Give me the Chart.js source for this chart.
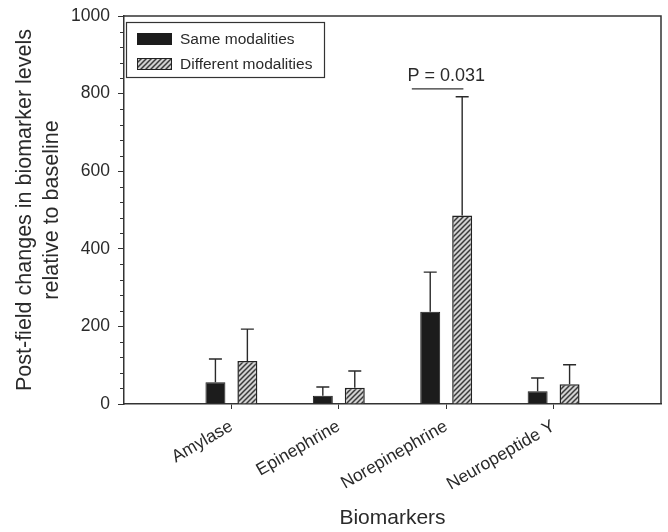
<!DOCTYPE html>
<html>
<head>
<meta charset="utf-8">
<script src="https://cdn.jsdelivr.net/npm/chart.js@4"></script>
<style>
  html, body { margin: 0; padding: 0; background: #fff; }
  #wrap { width: 668px; height: 532px; }
</style>
</head>
<body>
<div id="wrap"><canvas id="chart"></canvas></div>
<script>
// data
const categories = ['Amylase', 'Epinephrine', 'Norepinephrine', 'Neuropeptide Y'];
const sameMean = [56, 21, 238, 33];
const sameSD = [60, 23, 102, 34];
const diffMean = [111, 42, 486, 51];
const diffSD = [82, 43, 306, 50];
const yTicks = [0, 200, 400, 600, 800, 1000];
const pLabel = 'P = 0.031';

const FONT = 'Liberation Sans, Arial, sans-serif';
const INK = '#2a2a2a';

// one empty slot each side so the categories sit at 1..4 of 0..5
const pad = (arr) => [null, ...arr, null];
const labels = pad(categories).map(v => v === null ? '' : v);

function hatch() {
  const s = 5;
  const c = document.createElement('canvas');
  c.width = s; c.height = s;
  const g = c.getContext('2d');
  g.fillStyle = '#d2d2d2';
  g.fillRect(0, 0, s, s);
  g.strokeStyle = '#3a3a3a';
  g.lineWidth = 1.5;
  g.beginPath();
  g.moveTo(-1, s + 1); g.lineTo(s + 1, -1);
  g.moveTo(-1, 1); g.lineTo(1, -1);
  g.moveTo(s - 1, s + 1); g.lineTo(s + 1, s - 1);
  g.stroke();
  return g.createPattern(c, 'repeat');
}
const hatchFill = hatch();

const errorBars = {
  id: 'errorBars',
  afterDatasetsDraw(chart) {
    const ctx = chart.ctx, y = chart.scales.y;
    const sds = [pad(sameSD), pad(diffSD)];
    chart.data.datasets.forEach((ds, di) => {
      chart.getDatasetMeta(di).data.forEach((el, i) => {
        const v = ds.data[i];
        if (v == null) return;
        const top = y.getPixelForValue(v + sds[di][i]);
        ctx.save();
        ctx.strokeStyle = INK;
        ctx.lineWidth = 1.4;
        ctx.beginPath();
        ctx.moveTo(el.x, el.y);
        ctx.lineTo(el.x, top);
        ctx.moveTo(el.x - 6.5, top);
        ctx.lineTo(el.x + 6.5, top);
        ctx.stroke();
        ctx.restore();
      });
    });
  }
};

const extras = {
  id: 'extras',
  afterDraw(chart) {
    const ctx = chart.ctx, a = chart.chartArea;
    const x = chart.scales.x, y = chart.scales.y;
    ctx.save();
    // frame top + right
    ctx.strokeStyle = '#333';
    ctx.lineWidth = 1.5;
    ctx.beginPath();
    ctx.moveTo(a.left, a.top);
    ctx.lineTo(a.right, a.top);
    ctx.lineTo(a.right, a.bottom);
    ctx.stroke();
    // minor y ticks
    ctx.lineWidth = 1;
    ctx.beginPath();
    for (let v = 40; v < 1000; v += 40) {
      if (v % 200 === 0) continue;
      const py = Math.round(y.getPixelForValue(v)) + 0.5;
      ctx.moveTo(a.left - 4, py);
      ctx.lineTo(a.left, py);
    }
    ctx.stroke();
    // significance bracket
    const ly = y.getPixelForValue(812);
    ctx.lineWidth = 1.3;
    ctx.beginPath();
    ctx.moveTo(x.getPixelForValue(2.68), ly);
    ctx.lineTo(x.getPixelForValue(3.16), ly);
    ctx.stroke();
    ctx.fillStyle = INK;
    ctx.font = '18px ' + FONT;
    ctx.textAlign = 'center';
    ctx.textBaseline = 'middle';
    ctx.fillText(pLabel, x.getPixelForValue(3.0), y.getPixelForValue(844));
    // legend
    ctx.fillStyle = '#fff';
    ctx.fillRect(126, 22, 199, 55);
    ctx.strokeStyle = '#333';
    ctx.lineWidth = 1.2;
    ctx.strokeRect(126.5, 22.5, 198, 55);
    const rows = [39, 64];
    chart.data.datasets.forEach((ds, i) => {
      ctx.fillStyle = ds.backgroundColor;
      ctx.fillRect(137, rows[i] - 6, 35, 12);
      ctx.strokeStyle = ds.borderColor;
      ctx.lineWidth = 1;
      ctx.strokeRect(137.5, rows[i] - 5.5, 34, 11);
      ctx.fillStyle = INK;
      ctx.font = '15.5px ' + FONT;
      ctx.textAlign = 'left';
      ctx.fillText(ds.label, 180, rows[i] + 1);
    });
    ctx.restore();
  }
};

new Chart('chart', {
  type: 'bar',
  data: {
    labels: labels,
    datasets: [
      {
        label: 'Same modalities',
        data: pad(sameMean),
        backgroundColor: '#1c1c1c',
        borderColor: '#1c1c1c',
        borderWidth: 1,
        barPercentage: 0.625,
        categoryPercentage: 0.595,
      },
      {
        label: 'Different modalities',
        data: pad(diffMean),
        backgroundColor: hatchFill,
        borderColor: '#222',
        borderWidth: 1.5,
        barPercentage: 0.625,
        categoryPercentage: 0.595,
      },
    ],
  },
  options: {
    responsive: true,
    maintainAspectRatio: false,
    animation: false,
    layout: { padding: { top: 16, right: 7, bottom: 1, left: 0 } },
    plugins: { legend: { display: false }, tooltip: { enabled: false } },
    scales: {
      x: {
        offset: false,
        grid: {
          offset: false,
          drawOnChartArea: false,
          tickLength: 5,
          color: (c) => (c.index === 0 || c.index === labels.length - 1) ? 'rgba(0,0,0,0)' : '#333',
        },
        border: { color: '#333', width: 1.5 },
        ticks: {
          autoSkip: false,
          minRotation: 30,
          maxRotation: 30,
          padding: 7,
          color: INK,
          font: { family: FONT, size: 17.5 },
        },
        title: {
          display: true,
          text: 'Biomarkers',
          color: INK,
          padding: { top: 0, bottom: 0 },
          font: { family: FONT, size: 21 },
        },
        afterFit: (s) => {
          s.height = 532 - 404 - 1;
          s.paddingLeft = 0; s.paddingRight = 0;
        },
      },
      y: {
        min: 0,
        max: 1000,
        afterBuildTicks: (s) => { s.ticks = yTicks.map(v => ({ value: v })); },
        grid: { drawOnChartArea: false, tickLength: 6, color: '#333' },
        border: { color: '#333', width: 1.5 },
        ticks: {
          padding: 8,
          color: INK,
          font: { family: FONT, size: 17.5 },
          callback: (v) => String(v),
        },
        title: {
          display: true,
          text: ['Post-field changes in biomarker levels', 'relative to baseline'],
          color: INK,
          padding: { top: 12, bottom: 0 },
          font: { family: FONT, size: 21.5, lineHeight: 1.25 },
        },
        afterFit: (s) => {
          s.width = 124;
          s.paddingTop = 0; s.paddingBottom = 0;
        },
      },
    },
  },
  plugins: [errorBars, extras],
});
</script>
</body>
</html>
